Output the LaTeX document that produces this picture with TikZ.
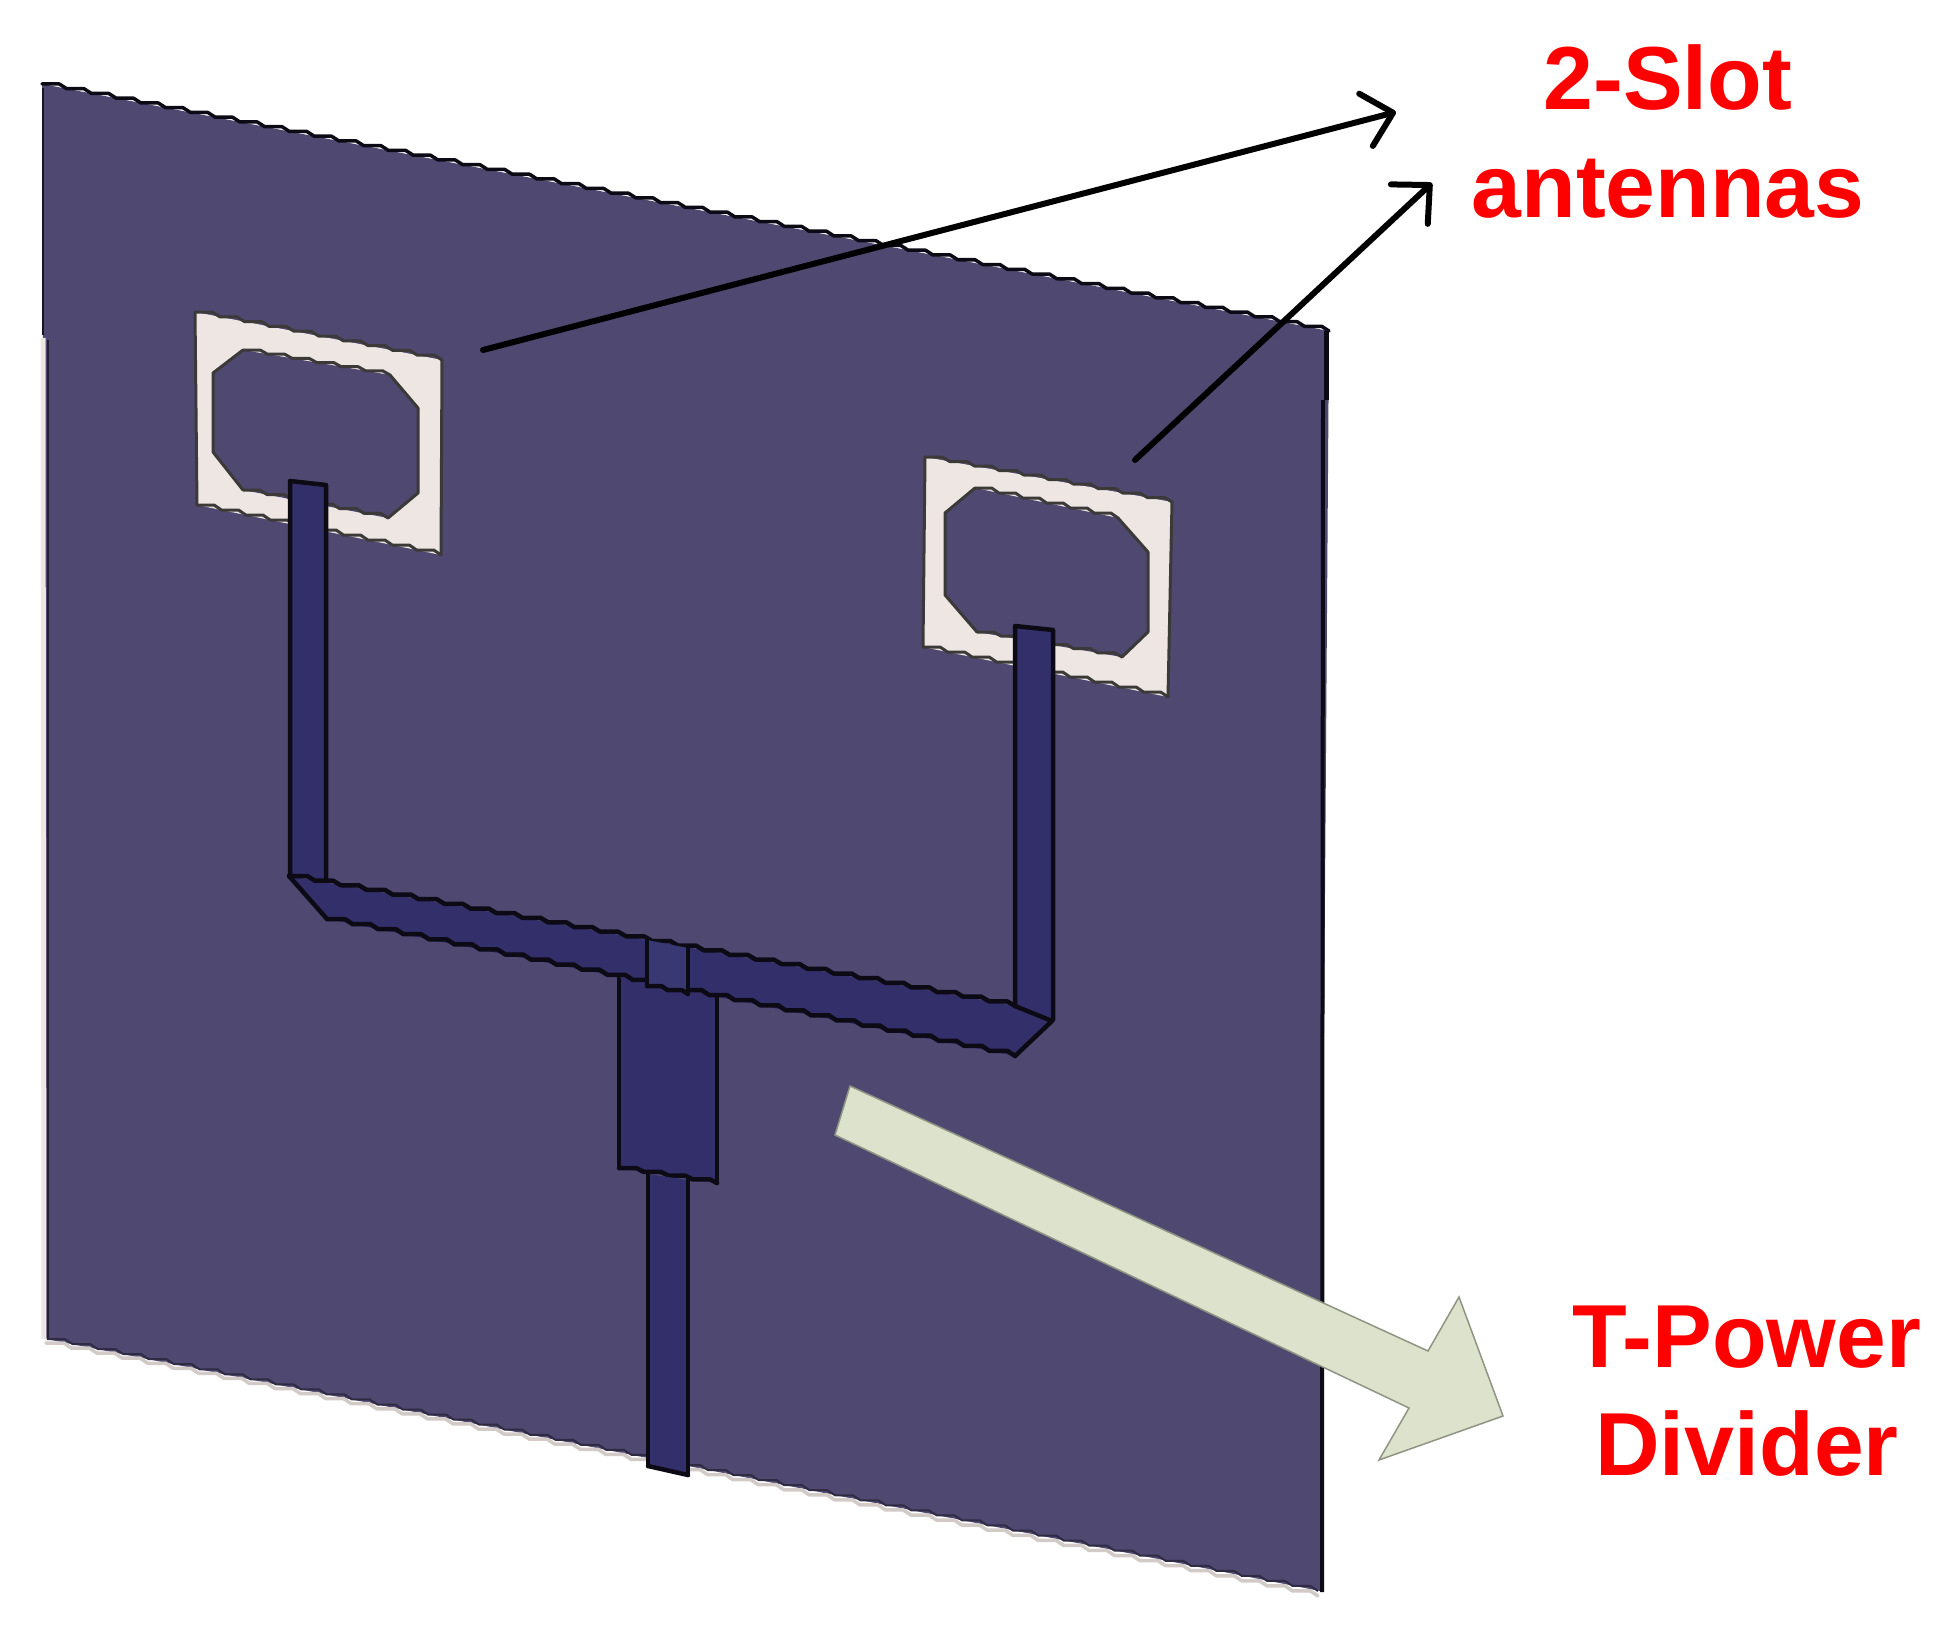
\documentclass[tikz,border=0pt]{standalone}
\usepackage{fontspec}
\setmainfont{Liberation Sans}
\usetikzlibrary{arrows.meta}
\definecolor{plate}{HTML}{4F4870}
\definecolor{feed}{HTML}{332F6B}
\definecolor{stubc}{HTML}{3A3873}
\definecolor{slotc}{HTML}{EDE6E2}
\definecolor{paleg}{HTML}{DDE2CC}
\definecolor{paleo}{HTML}{8F9583}
\definecolor{edgeb}{HTML}{0C0A14}
\tikzset{
  metal/.style={draw=edgeb,line width=4.5pt,line join=round,line cap=round},
  slotline/.style={draw=black!75!slotc,line width=3pt,line join=round,line cap=round},
  plateline/.style={draw=edgeb,line width=3.5pt,line join=round,line cap=round},
  beigeline/.style={draw=slotc!88!black,line width=3.5pt,line join=round,line cap=round},
  pointer/.style={draw=black,line width=6pt,line cap=round,-{Straight Barb[round,length=28pt,width=54pt,line width=6pt]}},
  lab/.style={text=red,font=\fontsize{89.5}{106}\selectfont\bfseries,align=center,inner sep=0pt},
}
% stepped (aliased) edge: style, x0, y0, x1, y1, number of steps
\newcommand{\stairline}[6]{%
  \draw[#1] (#2,#3) foreach \kk in {1,...,#6} {
    -- ({#2+(#4-#2)/#6*(\kk-0.3)},{#3+(#5-#3)/#6*(\kk-1)})
    -- ({#2+(#4-#2)/#6*\kk},{#3+(#5-#3)/#6*\kk}) };
}
\begin{document}
\begin{tikzpicture}[x=1pt,y=-1pt]
\useasboundingbox (0,0) rectangle (1952,1640);
% plate
\fill[plate] (42,84) -- (1329,331) -- (1320,1591) -- (46,1339) -- cycle;
\draw[line width=5pt,slotc] (43,338) -- (44,1339);
\draw[line width=2.5pt,black!70!plate] (43,88) -- (43,335);
\draw[line width=2pt,black!55!plate] (48,340) -- (48,1339);
\stairline{beigeline}{46}{1343}{1318}{1596}{50}
\stairline{draw=plate!60!black,line width=2pt}{47}{1339}{1318}{1591}{50}
\stairline{plateline}{42}{84}{1329}{331}{52}
\draw[line width=5pt,edgeb] (1326,331) -- (1326,400);
\draw[line width=4pt,edgeb] (1323,400) -- (1322,1592);
% left slot
\fill[slotc] (195,312) -- (442,360) -- (441,555) -- (197,505) -- cycle;
\draw[slotline] (195,312) -- (197,505);
\draw[slotline] (442,360) -- (441,555);
\stairline{slotline}{195}{312}{442}{360}{10}
\stairline{slotline}{197}{505}{441}{555}{10}
\fill[plate] (213,373) -- (243,350) -- (390,375) -- (418,408) -- (418,493) -- (388,518) -- (243,490) -- (213,452) -- cycle;
\draw[slotline] (243,350) -- (213,373) -- (213,452) -- (243,490);
\draw[slotline] (390,375) -- (418,408) -- (418,493) -- (388,518);
\stairline{slotline}{243}{350}{390}{375}{6}
\stairline{slotline}{243}{490}{388}{518}{6}
% right slot
\fill[slotc] (925,457) -- (1172,502) -- (1168,697) -- (923,647) -- cycle;
\draw[slotline] (925,457) -- (923,647);
\draw[slotline] (1172,502) -- (1168,697);
\stairline{slotline}{925}{457}{1172}{502}{10}
\stairline{slotline}{923}{647}{1168}{697}{10}
\fill[plate] (945,513) -- (975,488) -- (1118,518) -- (1148,552) -- (1148,632) -- (1122,657) -- (977,632) -- (945,595) -- cycle;
\draw[slotline] (975,488) -- (945,513) -- (945,595) -- (977,632);
\draw[slotline] (1118,518) -- (1148,552) -- (1148,632) -- (1122,657);
\stairline{slotline}{975}{488}{1118}{518}{6}
\stairline{slotline}{977}{632}{1122}{657}{6}
% feed network
\fill[feed] (290,481) -- (326,485) -- (326,880) -- (290,874) -- cycle;
\draw[metal] (290,874) -- (290,481) -- (326,485) -- (326,880);
\fill[feed] (1015,626) -- (1053,630) -- (1053,1020) -- (1015,1008) -- cycle;
\draw[metal] (1015,1008) -- (1015,626) -- (1053,630) -- (1053,1020);
\fill[feed] (619,977) -- (717,996) -- (717,1183) -- (619,1168) -- cycle;
\draw[metal] (619,977) -- (619,1168);
\draw[metal] (717,996) -- (717,1183);
\stairline{metal}{619}{1168}{717}{1183}{4}
\fill[feed] (289,876) -- (1015,1006) -- (1052,1021) -- (1015,1056) -- (327,919) -- cycle;
\draw[metal] (327,919) -- (289,876);
\draw[metal] (1015,1006) -- (1052,1021) -- (1015,1056);
\stairline{metal}{289}{876}{1015}{1006}{28}
\stairline{metal}{327}{919}{1015}{1056}{27}
\fill[stubc] (647,940) -- (688,948) -- (688,994) -- (647,986) -- cycle;
\draw[metal] (647,941) -- (647,986);
\draw[metal] (688,948) -- (688,994);
\stairline{metal}{647}{986}{688}{994}{2}
\fill[feed] (648,1174) -- (688,1180) -- (688,1475) -- (648,1466) -- cycle;
\draw[metal] (648,1466) -- (648,1174);
\draw[metal] (688,1180) -- (688,1475);
\draw[metal] (648,1466) -- (688,1475);
% big pale arrow
\draw[fill=paleg,draw=paleo,line width=1.5pt,line join=miter]
  (850,1086) -- (1428,1351) -- (1459,1297) -- (1503,1416) -- (1379,1460) -- (1409,1408) -- (835,1135) -- cycle;
% labels
\node[lab,anchor=base] (slotA) at (1668,110) {2-Slot};
\node[lab,anchor=base] (slotB) at (1668,218) {antennas};
\node[lab,anchor=base] (tpowA) at (1747,1367) {T-Power};
\node[lab,anchor=base] (tpowB) at (1747,1475) {Divider};
% pointers
\coordinate (s1) at (483,350);
\coordinate (t1) at (1396,112);
\coordinate (s2) at (1135,460);
\coordinate (t2) at (1432,183);
\draw[pointer] (s1) -- (t1);
\draw[pointer] (s2) -- (t2);
\end{tikzpicture}
\end{document}
